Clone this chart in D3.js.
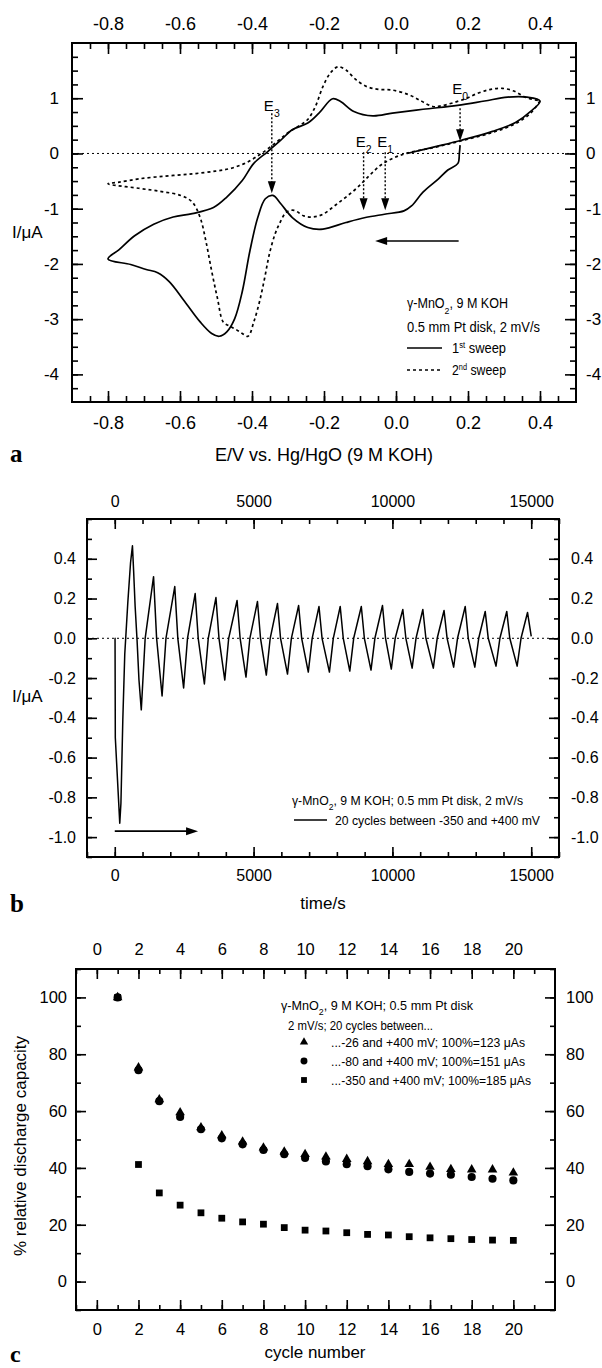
<!DOCTYPE html>
<html>
<head>
<meta charset="utf-8">
<script src="https://cdn.jsdelivr.net/npm/d3@7"></script>
<style>
  body { margin: 0; background: #fff; }
  svg { display: block; font-family: "Liberation Sans", Arial, Helvetica, sans-serif; }
</style>
</head>
<body>
<svg id="fig" width="602" height="1368"></svg>
<script>
// ---------- panel a: cyclic voltammogram ----------
const sweep1E = [0.178, 0.176, 0.172, 0.144, 0.118, 0.075, 0.043, 0.022, -0.032, -0.085,
  -0.139, -0.203, -0.245, -0.288, -0.32, -0.342, -0.363, -0.384, -0.406, -0.427,
  -0.448, -0.47, -0.491, -0.512, -0.544, -0.587, -0.63, -0.662, -0.694, -0.737, -0.8,
  -0.769, -0.726, -0.673, -0.619, -0.566, -0.507, -0.47, -0.427, -0.395, -0.357,
  -0.32, -0.288, -0.245, -0.214, -0.176, -0.154, -0.117, -0.064, -0.01, 0.075,
  0.171, 0.246, 0.31, 0.364, 0.4,
  0.374, 0.332, 0.268, 0.182, 0.107, 0.03];
const sweep1I = [0.15, 0, -0.18, -0.30, -0.46, -0.70, -0.95, -1.04, -1.10, -1.16,
  -1.25, -1.37, -1.34, -1.16, -0.91, -0.76, -0.82, -1.16, -1.77, -2.50,
  -2.99, -3.23, -3.31, -3.26, -3.05, -2.68, -2.32, -2.16, -2.10, -2.01, -1.91,
  -1.74, -1.49, -1.28, -1.15, -1.09, -0.98, -0.79, -0.49, -0.18, 0.03,
  0.24, 0.43, 0.55, 0.73, 0.99, 0.94, 0.76, 0.68, 0.73, 0.80,
  0.87, 0.95, 1.02, 1.02, 0.95,
  0.76, 0.56, 0.40, 0.24, 0.12, 0.0];

const sweep2E = [0.4, 0.374, 0.332, 0.268, 0.182, 0.107, 0.033, -0.01, -0.042, -0.074,
  -0.106, -0.139, -0.171, -0.203, -0.23, -0.256, -0.283, -0.304, -0.322, -0.336,
  -0.352, -0.365, -0.379, -0.395, -0.411, -0.427, -0.446, -0.464, -0.48, -0.496,
  -0.512, -0.528, -0.544, -0.566, -0.598, -0.651, -0.715, -0.8,
  -0.769, -0.715, -0.64, -0.566, -0.502, -0.459, -0.417, -0.374, -0.331, -0.299,
  -0.272, -0.246, -0.224, -0.203, -0.182, -0.161, -0.139, -0.112, -0.081, -0.049,
  -0.012, 0.033, 0.07, 0.102, 0.124, 0.188, 0.231, 0.263, 0.295, 0.327, 0.359, 0.4];
const sweep2I = [0.95, 0.73, 0.54, 0.38, 0.23, 0.11, 0.01, -0.09, -0.21, -0.40,
  -0.61, -0.79, -0.95, -1.10, -1.15, -1.13, -1.03, -1.06, -1.25, -1.46,
  -1.83, -2.26, -2.68, -3.05, -3.31, -3.26, -3.18, -3.12, -3.05, -2.62,
  -2.13, -1.59, -1.16, -0.88, -0.76, -0.69, -0.63, -0.55,
  -0.52, -0.46, -0.41, -0.37, -0.32, -0.27, -0.17, 0.0, 0.21, 0.38,
  0.49, 0.61, 0.85, 1.21, 1.46, 1.57, 1.51, 1.34, 1.21, 1.16,
  1.15, 1.07, 0.95, 0.85, 0.86, 0.98, 1.10, 1.16, 1.18, 1.13, 1.02, 0.95];

// potential markers E0..E3 (dotted arrows)
const markNames = ['0', '1', '2', '3'];
const markE = [0.178, -0.03, -0.09, -0.345];
const markFrom = [0.82, 0.02, 0.02, 0.73];
const markTo = [0.22, -1.03, -1.03, -0.72];
const markLabelI = [1.085, 0.125, 0.125, 0.76];

const potTicks = [-0.8, -0.6, -0.4, -0.2, 0, 0.2, 0.4];
const curTicksA = [1, 0, -1, -2, -3, -4];

// ---------- panel b: current vs time, 20 cycles ----------
const cyc1T = [0, 10, 20, 180, 222, 290, 360, 470, 568, 637, 679, 734, 803, 872];
const cyc1I = [0, 0, -0.5, -0.93, -0.83, -0.41, -0.08, 0.18, 0.38, 0.465, 0.34, 0.16, -0.01, -0.21];
const minT = [180, 955, 1704, 2480, 3228, 3963, 4726, 5458, 6221, 6970, 7731, 8465, 9229, 9960, 10710, 11473, 12205, 12968, 13731, 14492];
const minI = [-0.93, -0.36, -0.29, -0.25, -0.23, -0.21, -0.195, -0.185, -0.18, -0.17, -0.17, -0.165, -0.16, -0.155, -0.15, -0.15, -0.145, -0.145, -0.14, -0.14];
const peakT = [637, 1397, 2161, 2896, 3644, 4405, 5140, 5861, 6622, 7356, 8120, 8880, 9643, 10375, 11096, 11860, 12622, 13342, 14118, 14866];
const peakI = [0.465, 0.31, 0.26, 0.225, 0.205, 0.19, 0.185, 0.175, 0.165, 0.16, 0.16, 0.16, 0.165, 0.145, 0.145, 0.14, 0.16, 0.135, 0.135, 0.13];
// zero crossings of cycles 2..20 (rising) and 2..19 (falling)
const upT = [1095, 1844, 2620, 3368, 4103, 4866, 5598, 6361, 7110, 7871, 8605, 9369, 10100, 10850, 11613, 12345, 13108, 13871, 14632];
const downT = [1507, 2271, 3006, 3754, 4515, 5250, 5971, 6732, 7466, 8230, 8990, 9753, 10485, 11206, 11970, 12732, 13452, 14228];
const endT = 15000, endI = 0.01;

const timeTicks = [0, 5000, 10000, 15000];
const curTicksB = [0.4, 0.2, 0, -0.2, -0.4, -0.6, -0.8, -1.0];

// ---------- panel c: relative discharge capacity ----------
const cycles = d3.range(1, 21);
const cap26 = [100, 75.3, 64.1, 59.5, 54.2, 51.4, 49.2, 47.1, 45.7, 44.8, 43.9, 43.1, 42.3, 41.3, 41.3, 40.3, 39.5, 39.4, 39.4, 38.3];
const cap80 = [100, 74.4, 63.5, 57.9, 53.6, 50.4, 48.3, 46.3, 44.8, 43.5, 42.3, 41.3, 40.6, 39.5, 38.6, 38.0, 37.6, 36.8, 36.2, 35.6];
const cap350 = [100, 41.2, 31.2, 26.9, 24.2, 22.3, 21.0, 20.2, 19.0, 18.1, 17.8, 17.2, 16.6, 16.4, 15.8, 15.4, 15.1, 14.8, 14.6, 14.5];
const legendC = ['...-26 and +400 mV; 100%=123 \u03BCAs', '...-80 and +400 mV; 100%=151 \u03BCAs', '...-350 and +400 mV; 100%=185 \u03BCAs'];

const cycleTicks = d3.range(0, 21, 2);
const capTicks = [0, 20, 40, 60, 80, 100];

const svg = d3.select('#fig');
svg.append('rect').attr('width', 602).attr('height', 1368).attr('fill', '#fff');

// box with inward ticks on all four sides (Origin style)
function frame(x, y, o) {
  const g = svg.append('g');
  const [x0, x1] = x.range(), [y0, y1] = y.range();
  const sides = [
    { ax: d3.axisBottom, s: x, tr: `translate(0,${y0})`, maj: o.xMaj, min: o.xMin, fmt: o.xFmt, pad: o.padB, f: o.font },
    { ax: d3.axisTop, s: x, tr: `translate(0,${y1})`, maj: o.xMaj, min: o.xMin, fmt: o.xFmt, pad: o.padT, f: o.font },
    { ax: d3.axisLeft, s: y, tr: `translate(${x0},0)`, maj: o.yMaj, min: o.yMin, fmt: o.yFmt, pad: o.padL, f: o.fontY },
    { ax: d3.axisRight, s: y, tr: `translate(${x1},0)`, maj: o.yMaj, min: o.yMin, fmt: o.yFmt, pad: o.padR, f: o.fontY }
  ];
  sides.forEach(sd => {
    g.append('g').attr('transform', sd.tr)
      .call(sd.ax(sd.s).tickValues(sd.min).tickSize(-o.minLen).tickFormat(''));
    g.append('g').attr('transform', sd.tr)
      .call(sd.ax(sd.s).tickValues(sd.maj).tickSize(-o.majLen).tickPadding(sd.pad).tickFormat(sd.fmt))
      .attr('font-size', sd.f).attr('font-family', null);
  });
  g.selectAll('.domain').remove();
  g.selectAll('.tick line').attr('stroke', '#000').attr('stroke-width', 1.6);
  g.selectAll('.tick text').attr('fill', '#000');
  g.append('rect')
    .attr('x', x0).attr('y', y1).attr('width', x1 - x0).attr('height', y0 - y1)
    .attr('fill', 'none').attr('stroke', '#000').attr('stroke-width', 2);
  return g;
}

function zeroLine(x, y) {
  svg.append('line')
    .attr('x1', x.range()[0]).attr('x2', x.range()[1])
    .attr('y1', y(0)).attr('y2', y(0))
    .attr('stroke', '#000').attr('stroke-width', 1).attr('stroke-dasharray', '2,3');
}

function arrowHead(px, py, dir, len, half) {
  // dir: 'down' | 'left' | 'right'
  let p;
  if (dir === 'down') p = [[px, py], [px - half, py - len], [px + half, py - len]];
  if (dir === 'left') p = [[px, py], [px + len, py - half], [px + len, py + half]];
  if (dir === 'right') p = [[px, py], [px - len, py - half], [px - len, py + half]];
  svg.append('path').attr('d', 'M' + p.join('L') + 'Z').attr('fill', '#000');
}

function sub2(t, pre, subTxt, post) {
  t.append('tspan').text(pre);
  t.append('tspan').attr('baseline-shift', 'sub').attr('font-size', '70%').text(subTxt);
  t.append('tspan').text(post);
}

const fmt1 = d => d.toFixed(1);
const letterFont = '"Liberation Serif", "Times New Roman", serif';

/* ======== panel a ======== */
const xA = d3.scaleLinear().domain([-0.9, 0.5]).range([72, 576]);
const yA = d3.scaleLinear().domain([-4.5, 2]).range([402, 43]);

zeroLine(xA, yA);
frame(xA, yA, {
  xMaj: potTicks, xMin: d3.range(-0.85, 0.5, 0.05), xFmt: fmt1,
  yMaj: curTicksA, yMin: d3.range(-4.25, 2, 0.25), yFmt: d => String(d),
  majLen: 11, minLen: 6, font: 18, fontY: 17, padB: 14, padT: 13, padL: 13, padR: 10
});

const lineA = d3.line().x(d => xA(d[0])).y(d => yA(d[1])).curve(d3.curveCatmullRom.alpha(0.5));
svg.append('path').datum(sweep1E.map((e, i) => [e, sweep1I[i]]))
  .attr('d', lineA).attr('fill', 'none').attr('stroke', '#000').attr('stroke-width', 1.7);
svg.append('path').datum(sweep2E.map((e, i) => [e, sweep2I[i]]))
  .attr('d', lineA).attr('fill', 'none').attr('stroke', '#000').attr('stroke-width', 1.7)
  .attr('stroke-dasharray', '3,3');

// E markers
markE.forEach((e, i) => {
  svg.append('line')
    .attr('x1', xA(e)).attr('x2', xA(e))
    .attr('y1', yA(markFrom[i])).attr('y2', yA(markTo[i]) - 10)
    .attr('stroke', '#000').attr('stroke-width', 1.4).attr('stroke-dasharray', '2,2');
  arrowHead(xA(e), yA(markTo[i]), 'down', 12, 4);
  const t = svg.append('text').attr('x', xA(e)).attr('y', yA(markLabelI[i]))
    .attr('text-anchor', 'middle').attr('font-size', 15);
  sub2(t, 'E', markNames[i], '');
});

// sweep direction arrow
svg.append('line').attr('x1', xA(0.174)).attr('x2', xA(-0.058) + 10)
  .attr('y1', yA(-1.585)).attr('y2', yA(-1.585)).attr('stroke', '#000').attr('stroke-width', 1.6);
arrowHead(xA(-0.058), yA(-1.585), 'left', 12, 4);

// legend a
const la1 = svg.append('text').attr('x', 407).attr('y', 308).attr('font-size', 14)
  .attr('textLength', 101).attr('lengthAdjust', 'spacingAndGlyphs');
sub2(la1, '\u03B3-MnO', '2', ', 9 M KOH');
svg.append('text').attr('x', 407).attr('y', 332).attr('font-size', 14)
  .attr('textLength', 133).attr('lengthAdjust', 'spacingAndGlyphs')
  .text('0.5 mm Pt disk, 2 mV/s');
[['st', 348, null], ['nd', 370, '3,3']].forEach((r, i) => {
  svg.append('line').attr('x1', 407).attr('x2', 442).attr('y1', r[1]).attr('y2', r[1])
    .attr('stroke', '#000').attr('stroke-width', 1.7).attr('stroke-dasharray', r[2]);
  const t = svg.append('text').attr('x', 452).attr('y', r[1] + 5).attr('font-size', 14)
    .attr('textLength', 54).attr('lengthAdjust', 'spacingAndGlyphs');
  t.append('tspan').text(i + 1);
  t.append('tspan').attr('baseline-shift', 'super').attr('font-size', '60%').text(r[0]);
  t.append('tspan').text(' sweep');
});

// axis titles a
svg.append('text').attr('x', 324).attr('y', 461).attr('text-anchor', 'middle').attr('font-size', 18)
  .text('E/V vs. Hg/HgO (9 M KOH)');
svg.append('text').attr('x', 12).attr('y', 238).attr('font-size', 17).text('I/\u03BCA');
svg.append('text').attr('x', 10).attr('y', 462).attr('font-size', 25).attr('font-weight', 'bold')
  .attr('font-family', letterFont).text('a');

/* ======== panel b ======== */
const xB = d3.scaleLinear().domain([-1000, 16000]).range([87, 559]);
const yB = d3.scaleLinear().domain([-1.1, 0.6]).range([857, 519]);

zeroLine(xB, yB);
frame(xB, yB, {
  xMaj: timeTicks, xMin: d3.range(-1000, 16001, 1000), xFmt: d => String(d),
  yMaj: curTicksB, yMin: d3.range(-1.1, 0.61, 0.1), yFmt: fmt1,
  majLen: 10, minLen: 5, font: 16, fontY: 16, padB: 13, padT: 12, padL: 11, padR: 12
});

const ptsB = cyc1T.map((t, i) => [t, cyc1I[i]]);
for (let k = 1; k < 20; k++) {
  ptsB.push([minT[k], minI[k]], [upT[k - 1], 0], [peakT[k], peakI[k]]);
  if (k < 19) ptsB.push([downT[k - 1], 0]);
}
ptsB.push([endT, endI]);

const lineB = d3.line().x(d => xB(d[0])).y(d => yB(d[1])).curve(d3.curveLinear);
svg.append('path').datum(ptsB).attr('d', lineB)
  .attr('fill', 'none').attr('stroke', '#000').attr('stroke-width', 1.5)
  .attr('stroke-linejoin', 'round');

// time arrow
svg.append('line').attr('x1', xB(0)).attr('x2', xB(3000) - 10)
  .attr('y1', yB(-0.97)).attr('y2', yB(-0.97)).attr('stroke', '#000').attr('stroke-width', 1.6);
arrowHead(xB(3000), yB(-0.97), 'right', 12, 4);

// legend b
const lb1 = svg.append('text').attr('x', 292).attr('y', 805).attr('font-size', 13)
  .attr('textLength', 231).attr('lengthAdjust', 'spacingAndGlyphs');
sub2(lb1, '\u03B3-MnO', '2', ', 9 M KOH; 0.5 mm Pt disk, 2 mV/s');
svg.append('line').attr('x1', 294).attr('x2', 327).attr('y1', 820).attr('y2', 820)
  .attr('stroke', '#000').attr('stroke-width', 1.5);
svg.append('text').attr('x', 335).attr('y', 825).attr('font-size', 13)
  .attr('textLength', 205).attr('lengthAdjust', 'spacingAndGlyphs')
  .text('20 cycles between -350 and +400 mV');

svg.append('text').attr('x', 323).attr('y', 909).attr('text-anchor', 'middle').attr('font-size', 17)
  .text('time/s');
svg.append('text').attr('x', 12).attr('y', 702).attr('font-size', 17).text('I/\u03BCA');
svg.append('text').attr('x', 10).attr('y', 912).attr('font-size', 25).attr('font-weight', 'bold')
  .attr('font-family', letterFont).text('b');

/* ======== panel c ======== */
const xC = d3.scaleLinear().domain([-1, 22]).range([76, 555]);
const yC = d3.scaleLinear().domain([-10, 110]).range([1310, 969]);

frame(xC, yC, {
  xMaj: cycleTicks, xMin: d3.range(-1, 22, 1), xFmt: d => String(d),
  yMaj: capTicks, yMin: d3.range(-10, 111, 10), yFmt: d => String(d),
  majLen: 10, minLen: 5, font: 16.5, fontY: 16.5, padB: 13, padT: 14, padL: 9, padR: 11
});

const symbols = [d3.symbolTriangle, d3.symbolCircle, d3.symbolSquare];
const sizes = [40, 52, 46];
[cap26, cap80, cap350].forEach((s, j) => {
  svg.append('g').selectAll('path').data(s).join('path')
    .attr('transform', (d, i) => `translate(${xC(cycles[i])},${yC(d)})`)
    .attr('d', d3.symbol(symbols[j], sizes[j]))
    .attr('fill', '#000');
});

// legend c
const lc1 = svg.append('text').attr('x', 281).attr('y', 1010).attr('font-size', 13)
  .attr('textLength', 192).attr('lengthAdjust', 'spacingAndGlyphs');
sub2(lc1, '\u03B3-MnO', '2', ', 9 M KOH; 0.5 mm Pt disk');
svg.append('text').attr('x', 288).attr('y', 1030).attr('font-size', 13)
  .attr('textLength', 145).attr('lengthAdjust', 'spacingAndGlyphs')
  .text('2 mV/s; 20 cycles between...');
const legSizes = [30, 38, 34];
const legLen = [194, 194, 200];
legendC.forEach((txt, j) => {
  const ly = 1042 + j * 19;
  svg.append('path').attr('transform', `translate(304,${ly})`)
    .attr('d', d3.symbol(symbols[j], legSizes[j])).attr('fill', '#000');
  svg.append('text').attr('x', 331).attr('y', ly + 5).attr('font-size', 13)
    .attr('textLength', legLen[j]).attr('lengthAdjust', 'spacingAndGlyphs').text(txt);
});

svg.append('text').attr('x', 315).attr('y', 1358).attr('text-anchor', 'middle').attr('font-size', 17)
  .text('cycle number');
svg.append('text').attr('transform', 'translate(26,1146) rotate(-90)')
  .attr('text-anchor', 'middle').attr('font-size', 17)
  .text('% relative discharge capacity');
svg.append('text').attr('x', 10).attr('y', 1362).attr('font-size', 24).attr('font-weight', 'bold')
  .attr('font-family', letterFont).text('c');
</script>
</body>
</html>
